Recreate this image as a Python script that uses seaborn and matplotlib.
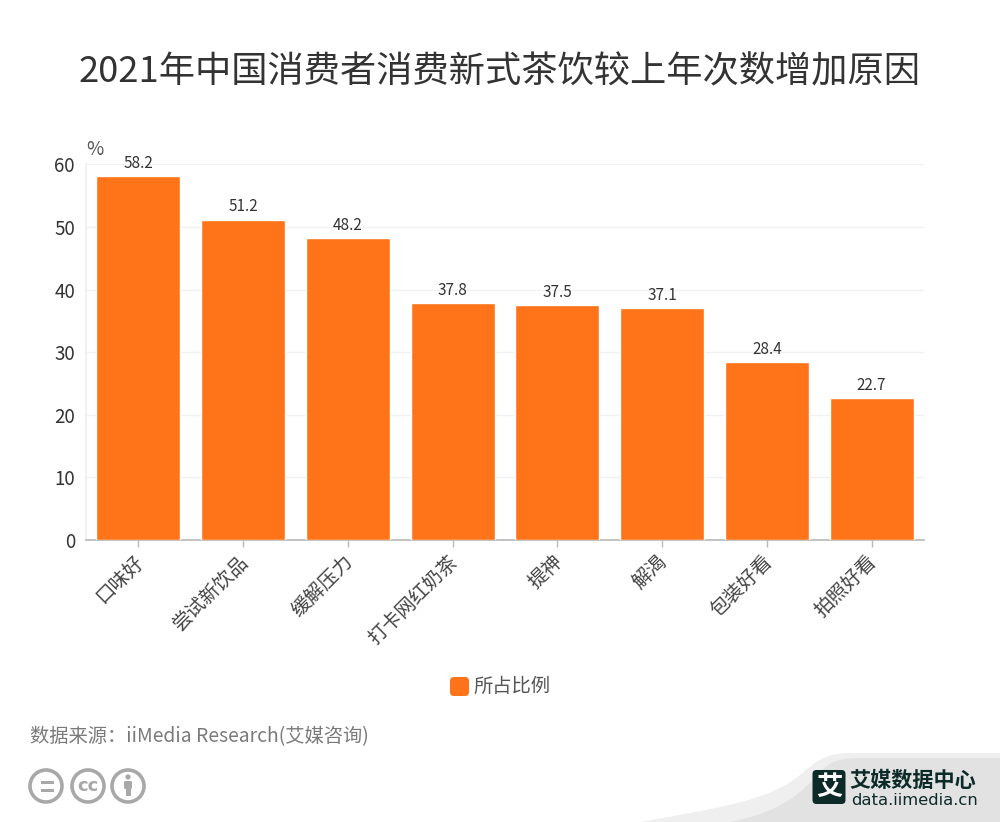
import matplotlib
matplotlib.use("Agg")
import matplotlib.pyplot as plt
import seaborn as sns
import pandas as pd
from matplotlib.path import Path
from matplotlib.patches import PathPatch, Circle, FancyBboxPatch, Rectangle
from matplotlib.transforms import ScaledTranslation

categories = ["口味好", "尝试新饮品", "缓解压力", "打卡网红奶茶", "提神", "解渴", "包装好看", "拍照好看"]
values = [58.2, 51.2, 48.2, 37.8, 37.5, 37.1, 28.4, 22.7]
yticks = [0, 10, 20, 30, 40, 50, 60]
title = "2021年中国消费者消费新式茶饮较上年次数增加原因"
series_name = "所占比例"
source = "数据来源：iiMedia Research(艾媒咨询)"
unit = "%"

sns.set_theme(style="white")
plt.rcParams["font.family"] = ["Noto Sans CJK SC", "DejaVu Sans"]
plt.rcParams["axes.unicode_minus"] = False

W, H = 1000, 822
ORANGE = "#ff7319"
TXT = "#333333"
GREY = "#a8a8a8"
fig = plt.figure(figsize=(W / 100, H / 100), dpi=100, facecolor="white")

# overlay in pixel coordinates for page furniture
bg = fig.add_axes([0, 0, 1, 1], zorder=0)
bg.set_xlim(0, W)
bg.set_ylim(H, 0)
bg.axis("off")

light = Path(
    [(640, 822), (720, 808), (770, 800), (800, 775), (815, 762), (825, 753), (850, 753),
     (1000, 753), (1000, 822), (640, 822)],
    [Path.MOVETO, Path.CURVE4, Path.CURVE4, Path.CURVE4, Path.CURVE4, Path.CURVE4, Path.CURVE4,
     Path.LINETO, Path.LINETO, Path.CLOSEPOLY],
)
dark = Path(
    [(730, 822), (780, 812), (800, 795), (820, 772), (830, 762), (838, 758), (860, 758),
     (1000, 758), (1000, 822), (730, 822)],
    [Path.MOVETO, Path.CURVE4, Path.CURVE4, Path.CURVE4, Path.CURVE4, Path.CURVE4, Path.CURVE4,
     Path.LINETO, Path.LINETO, Path.CLOSEPOLY],
)
bg.add_patch(PathPatch(light, fc="#efefef", ec="none"))
bg.add_patch(PathPatch(dark, fc="#e2e2e2", ec="none"))

bg.add_patch(FancyBboxPatch((812.5, 770), 33, 34, boxstyle="round,pad=0,rounding_size=4", fc="#0b2a28", ec="none"))
bg.text(829, 787, "艾", color="white", fontsize=19, fontweight="bold", ha="center", va="center")
bg.text(849.5, 780, "艾媒数据中心", color="#0b2a28", fontsize=15.2, fontweight="bold", ha="left", va="center")
bg.text(851, 800.5, "data.iimedia.cn", color="#0b2a28", fontsize=11.8, family="DejaVu Sans", ha="left", va="center")

for cx in (46, 88, 128):
    bg.add_patch(Circle((cx, 786), 16, fc="white", ec=GREY, lw=2.6))
bg.add_patch(Rectangle((41, 780.5), 13, 3, fc=GREY, ec="none"))
bg.add_patch(Rectangle((41, 788.5), 13, 3, fc=GREY, ec="none"))
bg.text(88, 785.5, "cc", color=GREY, fontsize=13, fontweight="bold", family="DejaVu Sans", ha="center", va="center")
bg.add_patch(Circle((128, 777), 2.6, fc=GREY, ec="none"))
bg.add_patch(FancyBboxPatch((124, 781), 8, 8, boxstyle="round,pad=0,rounding_size=1.5", fc=GREY, ec="none"))
bg.add_patch(Rectangle((125.5, 786), 5, 10, fc=GREY, ec="none"))

bg.text(500, 72, title, color=TXT, fontsize=26.1, ha="center", va="center")
bg.text(30, 737, source, color="#7a7a7a", fontsize=13.9, ha="left", va="center")
bg.text(86, 149.5, unit, color="#555555", fontsize=13.5, ha="left", va="center")

# legend
bg.add_patch(FancyBboxPatch((450, 677), 19, 19, boxstyle="round,pad=0,rounding_size=4", fc=ORANGE, ec="none"))
bg.text(473, 686.5, series_name, color="#555555", fontsize=13.9, ha="left", va="center")

# chart
ax = fig.add_axes([86 / W, 1 - 540 / H, 838 / W, 375.5 / H], zorder=1)
ax.patch.set_alpha(0)
df = pd.DataFrame({"category": categories, "value": values})
sns.barplot(data=df, x="category", y="value", color=ORANGE, saturation=1, width=0.8, ax=ax, zorder=3)
ax.set_xlim(-0.5, len(categories) - 0.5)
ax.set_ylim(0, 60)
ax.set_xlabel("")
ax.set_ylabel("")
ax.set_yticks(yticks)
ax.set_axisbelow(True)
ax.grid(axis="y", color="#f1f1f1", lw=1)
ax.grid(axis="x", visible=False)
for s in ("top", "right"):
    ax.spines[s].set_visible(False)
ax.spines["left"].set_color("#eeeeee")
ax.spines["bottom"].set_color("#bbbbbb")
ax.tick_params(axis="y", length=5, width=1, color="#eeeeee", labelsize=13.5, labelcolor=TXT, pad=3)
ax.tick_params(axis="x", length=5, width=1, color="#bbbbbb", labelsize=14, labelcolor="#444444", pad=3, bottom=True)
ax.set_xticks(range(len(categories)))
ax.set_xticklabels(categories, rotation=45, ha="right", rotation_mode="anchor")
shift = ScaledTranslation(-4 / 72, 0, fig.dpi_scale_trans)
for lab in ax.get_xticklabels():
    lab.set_transform(lab.get_transform() + shift)
ax.bar_label(ax.containers[0], labels=[f"{v:.1f}" for v in values], padding=3, fontsize=11, color=TXT)

fig.savefig("out.png", dpi=100, facecolor="white")
